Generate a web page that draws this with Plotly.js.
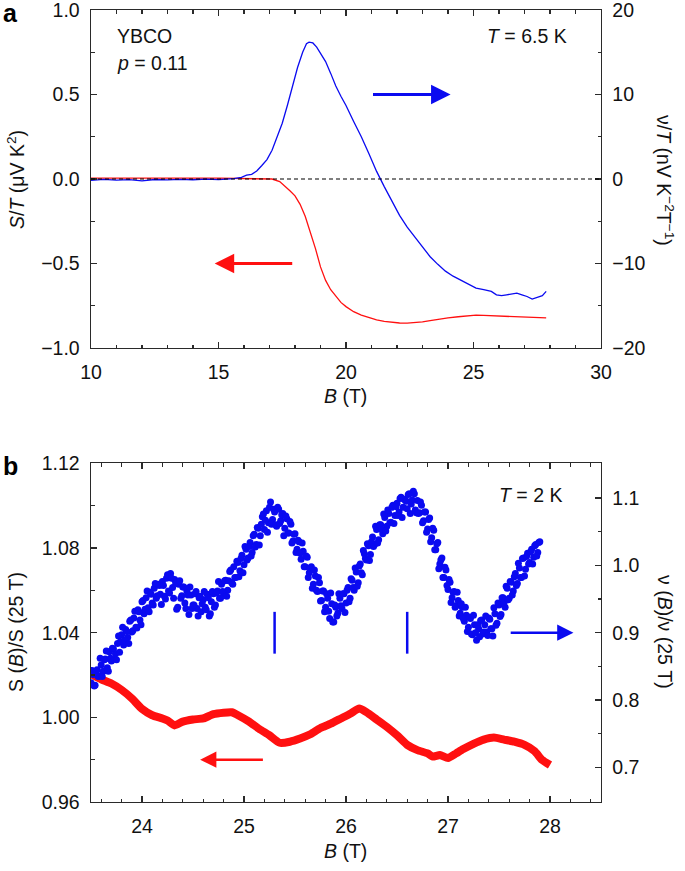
<!DOCTYPE html>
<html>
<head>
<meta charset="utf-8">
<script src="https://cdn.plot.ly/plotly-3.0.1.min.js"></script>
<style>html,body{margin:0;padding:0;background:#fff;}#chart{width:685px;height:871px;}</style>
</head>
<body>
<div id="chart"></div>
<script>
// ---------- Panel a data ----------
const aRedB = [10,11,12,13,14,15,16,16.8,17.1,17.4,17.6,17.8,18.0,18.2,18.4,18.6,18.8,19.0,19.2,19.4,19.6,19.8,20.0,20.3,20.6,20.9,21.2,21.5,21.8,22.1,22.4,22.7,23.0,23.3,23.6,24.0,24.4,24.8,25.1,25.4,25.8,26.2,26.6,27.0,27.4,27.85];
const aRedS = [0.005,0.004,0.006,0.004,0.005,0.005,0.004,0.003,0.0,-0.015,-0.04,-0.07,-0.10,-0.15,-0.22,-0.31,-0.41,-0.52,-0.60,-0.655,-0.695,-0.73,-0.755,-0.785,-0.805,-0.82,-0.833,-0.842,-0.848,-0.852,-0.853,-0.851,-0.845,-0.838,-0.83,-0.822,-0.815,-0.808,-0.805,-0.807,-0.809,-0.811,-0.815,-0.818,-0.821,-0.822];
const aBlueB = [10.0,10.5,11.0,11.5,12.0,12.5,13.0,13.5,14.0,14.5,15.0,15.3,15.6,15.9,16.1,16.3,16.5,16.7,16.9,17.1,17.3,17.5,17.7,17.9,18.1,18.3,18.45,18.55,18.7,18.85,19.0,19.2,19.4,19.6,19.8,20.0,20.3,20.6,20.9,21.2,21.5,21.8,22.1,22.4,22.7,23.0,23.3,23.6,23.9,24.2,24.5,24.8,25.1,25.4,25.7,25.9,26.1,26.3,26.5,26.7,26.9,27.1,27.3,27.5,27.7,27.85];
const aBlueNu = [-0.15,-0.05,-0.12,-0.08,-0.22,-0.06,-0.10,-0.04,-0.09,-0.02,-0.07,-0.03,0.05,0.20,0.45,0.55,0.95,1.6,2.3,3.4,4.9,6.6,8.7,11.0,13.2,15.0,16.0,16.2,16.1,15.6,14.9,13.9,12.5,11.0,9.8,8.7,6.8,5.0,3.0,0.9,-0.9,-2.6,-4.3,-5.7,-6.9,-8.1,-9.2,-10.1,-10.9,-11.5,-12.0,-12.4,-12.9,-13.1,-13.3,-13.7,-13.8,-13.7,-13.6,-13.5,-13.7,-13.9,-14.2,-14.0,-13.8,-13.3];

// ---------- Panel b data ----------
const bRedB = [23.50,23.60,23.70,23.80,23.90,24.00,24.10,24.20,24.25,24.32,24.40,24.50,24.60,24.70,24.80,24.88,24.95,25.05,25.15,25.25,25.35,25.45,25.55,25.65,25.75,25.85,25.95,26.05,26.13,26.20,26.30,26.40,26.50,26.60,26.70,26.80,26.85,26.92,27.00,27.08,27.15,27.25,27.35,27.45,27.55,27.65,27.75,27.85,27.92,28.00];
const bRedS = [1.0205,1.0180,1.0160,1.0130,1.0090,1.0040,1.0010,0.9995,0.9985,0.9962,0.9980,0.9990,0.9995,1.0015,1.0022,1.0024,1.0008,0.9980,0.9945,0.9915,0.9880,0.9885,0.9900,0.9920,0.9950,0.9970,0.9995,1.0020,1.0042,1.0025,0.9990,0.9955,0.9915,0.9870,0.9845,0.9830,0.9815,0.9822,0.9808,0.9830,0.9850,0.9875,0.9895,0.9905,0.9895,0.9885,0.9870,0.9840,0.9800,0.9775];

// blue scatter, first sweep
const bBlueB1 = [23.50,23.52,23.54,23.56,23.58,23.60,23.62,23.64,23.66,23.68,23.70,23.72,23.74,23.76,23.78,23.80,23.82,23.84,23.86,23.88,23.90,23.92,23.94,23.96,23.98,24.00,24.02,24.04,24.06,24.08,24.10,24.12,24.14,24.16,24.18,24.20,24.22,24.24,24.26,24.28,24.30,24.32,24.34,24.36,24.38,24.40,24.42,24.44,24.46,24.48,24.50,24.52,24.54,24.56,24.58,24.60,24.62,24.64,24.66,24.68,24.70,24.72,24.74,24.76,24.78,24.80,24.82,24.84,24.86,24.88,24.90,24.92,24.94,24.96,24.98,25.00,25.02,25.04,25.06,25.08,25.10,25.12,25.14,25.16,25.18,25.20,25.22,25.24,25.26,25.28,25.30,25.32,25.34,25.36,25.38,25.40,25.42,25.44,25.46,25.48,25.50,25.52,25.54,25.56,25.58,25.60,25.62,25.64,25.66,25.68,25.70,25.72,25.74,25.76,25.78,25.80,25.82,25.84,25.86,25.88,25.90,25.92,25.94,25.96,25.98,26.00,26.02,26.04,26.06,26.08,26.10,26.12,26.14,26.16,26.18,26.20,26.22,26.24,26.26,26.28,26.30,26.32,26.34,26.36,26.38,26.40,26.42,26.44,26.46,26.48,26.50,26.52,26.54,26.56,26.58,26.60,26.62,26.64,26.66,26.68,26.70,26.72,26.74,26.76,26.78,26.80,26.82,26.84,26.86,26.88,26.90,26.92,26.94,26.96,26.98,27.00,27.02,27.04,27.06,27.08,27.10,27.12,27.14,27.16,27.18,27.20,27.22,27.24,27.26,27.28,27.30,27.32,27.34,27.36,27.38,27.40,27.42,27.44,27.46,27.48,27.50,27.52,27.54,27.56,27.58,27.60,27.62,27.64,27.66,27.68,27.70,27.72,27.74,27.76,27.78,27.80,27.82,27.84,27.86,27.88,27.90];
const bBlueNu1 = [0.826,0.838,0.822,0.845,0.836,0.852,0.843,0.861,0.848,0.872,0.858,0.876,0.869,0.884,0.871,0.897,0.882,0.905,0.893,0.917,0.901,0.922,0.908,0.934,0.919,0.946,0.928,0.952,0.937,0.960,0.944,0.966,0.951,0.972,0.957,0.976,0.954,0.981,0.962,0.988,0.967,0.979,0.935,0.972,0.951,0.968,0.944,0.962,0.927,0.956,0.941,0.958,0.936,0.952,0.931,0.949,0.938,0.957,0.925,0.946,0.958,0.941,0.962,0.951,0.972,0.958,0.978,0.963,0.991,0.974,0.998,0.982,1.004,0.992,1.015,1.001,1.024,1.011,1.034,1.019,1.046,1.031,1.055,1.044,1.072,1.053,1.081,1.063,1.094,1.068,1.079,1.058,1.083,1.066,1.077,1.055,1.069,1.048,1.061,1.036,1.047,1.024,1.035,1.009,1.021,0.998,1.012,0.989,0.998,0.972,0.984,0.961,0.974,0.948,0.962,0.938,0.951,0.921,0.943,0.916,0.938,0.929,0.951,0.936,0.958,0.944,0.967,0.951,0.978,0.963,0.990,0.974,1.002,0.986,1.017,1.008,1.029,1.016,1.042,1.031,1.053,1.038,1.060,1.047,1.071,1.058,1.077,1.064,1.089,1.074,1.092,1.079,1.101,1.086,1.097,1.084,1.106,1.091,1.110,1.082,1.096,1.078,1.089,1.066,1.079,1.054,1.070,1.041,1.052,1.023,1.034,1.002,1.011,0.982,0.993,0.964,0.975,0.952,0.961,0.940,0.948,0.929,0.938,0.917,0.926,0.908,0.921,0.897,0.912,0.889,0.906,0.918,0.898,0.912,0.901,0.922,0.906,0.895,0.928,0.914,0.941,0.927,0.952,0.938,0.966,0.951,0.975,0.962,0.988,0.973,0.996,0.982,1.011,0.994,1.018,1.004,1.024,1.012,1.031,1.019,1.035];

// blue scatter, second sweep
const bBlueB2 = [23.51,23.53,23.55,23.57,23.59,23.61,23.63,23.65,23.67,23.69,23.71,23.73,23.75,23.77,23.79,23.81,23.83,23.85,23.87,23.89,23.91,23.93,23.95,23.97,23.99,24.01,24.03,24.05,24.07,24.09,24.11,24.13,24.15,24.17,24.19,24.21,24.23,24.25,24.27,24.29,24.31,24.33,24.35,24.37,24.39,24.41,24.43,24.45,24.47,24.49,24.51,24.53,24.55,24.57,24.59,24.61,24.63,24.65,24.67,24.69,24.71,24.73,24.75,24.77,24.79,24.81,24.83,24.85,24.87,24.89,24.91,24.93,24.95,24.97,24.99,25.01,25.03,25.05,25.07,25.09,25.11,25.13,25.15,25.17,25.19,25.21,25.23,25.25,25.27,25.29,25.31,25.33,25.35,25.37,25.39,25.41,25.43,25.45,25.47,25.49,25.51,25.53,25.55,25.57,25.59,25.61,25.63,25.65,25.67,25.69,25.71,25.73,25.75,25.77,25.79,25.81,25.83,25.85,25.87,25.89,25.91,25.93,25.95,25.97,25.99,26.01,26.03,26.05,26.07,26.09,26.11,26.13,26.15,26.17,26.19,26.21,26.23,26.25,26.27,26.29,26.31,26.33,26.35,26.37,26.39,26.41,26.43,26.45,26.47,26.49,26.51,26.53,26.55,26.57,26.59,26.61,26.63,26.65,26.67,26.69,26.71,26.73,26.75,26.77,26.79,26.81,26.83,26.85,26.87,26.89,26.91,26.93,26.95,26.97,26.99,27.01,27.03,27.05,27.07,27.09,27.11,27.13,27.15,27.17,27.19,27.21,27.23,27.25,27.27,27.29,27.31,27.33,27.35,27.37,27.39,27.41,27.43,27.45,27.47,27.49,27.51,27.53,27.55,27.57,27.59,27.61,27.63,27.65,27.67,27.69,27.71,27.73,27.75,27.77,27.79,27.81,27.83,27.85,27.87,27.89];
const bBlueNu2 = [0.844,0.821,0.843,0.835,0.862,0.835,0.860,0.873,0.843,0.862,0.877,0.861,0.860,0.895,0.887,0.908,0.889,0.902,0.884,0.919,0.903,0.932,0.907,0.931,0.912,0.948,0.935,0.962,0.931,0.957,0.941,0.973,0.955,0.970,0.942,0.970,0.950,0.986,0.959,0.981,0.951,0.974,0.938,0.977,0.955,0.968,0.936,0.956,0.968,0.936,0.941,0.961,0.925,0.954,0.943,0.961,0.934,0.952,0.928,0.961,0.938,0.959,0.976,0.951,0.961,0.977,0.954,0.977,0.993,0.972,0.982,1.006,0.983,1.010,0.989,1.028,1.008,1.028,1.014,1.044,1.027,1.056,1.030,1.061,1.076,1.067,1.049,1.086,1.061,1.083,1.060,1.086,1.062,1.075,1.044,1.073,1.048,1.065,1.033,1.046,1.019,1.037,1.018,1.033,0.998,1.014,0.982,0.996,0.966,0.993,0.963,0.982,0.947,0.962,0.931,0.958,0.932,0.959,0.916,0.941,0.925,0.958,0.940,0.958,0.930,0.963,0.946,0.980,0.967,0.996,0.969,0.999,0.989,1.022,1.010,1.032,1.007,1.035,1.028,1.058,1.033,1.060,1.053,1.076,1.051,1.082,1.063,1.086,1.062,1.087,1.074,1.099,1.071,1.098,1.095,1.105,1.077,1.097,1.106,1.078,1.077,1.094,1.063,1.079,1.049,1.068,1.035,1.055,1.023,1.032,0.995,1.008,0.982,0.997,0.970,0.979,0.945,0.960,0.938,0.960,0.925,0.943,0.921,0.938,0.902,0.923,0.898,0.926,0.900,0.912,0.894,0.919,0.901,0.925,0.896,0.920,0.906,0.937,0.911,0.944,0.924,0.952,0.945,0.969,0.949,0.976,0.956,0.983,0.970,1.003,0.982,1.010,0.984,1.013,1.002,1.020,1.002,1.029,1.014,1.034];

// marker bars in panel b (field positions)
const bBarB = [25.30, 26.60];

const RED = '#ff1010', BLUE = '#0a0af0', AX = '#2a2a2a';
const FONT = 'Liberation Sans, Arial, Helvetica, sans-serif';
const FS = 19.5;

// page geometry helpers (paper coords)
const L = 91, R = 84, T = 10, Bm = 69, W = 685, H = 871;
const PW = W - L - R, PH = H - T - Bm;
const px = v => (v - L) / PW;
const py = v => 1 - (v - T) / PH;

function axisBase(extra) {
  return Object.assign({
    showline: true, linecolor: AX, linewidth: 1.4,
    ticks: 'inside', ticklen: 6, tickwidth: 1.4, tickcolor: AX,
    showgrid: false, zeroline: false,
    tickfont: {family: FONT, size: FS, color: '#111'},
    ticklabeloverflow: 'allow',
    fixedrange: true
  }, extra);
}
function minor(d) { return {dtick: d, ticks: 'inside', ticklen: 3.5, tickwidth: 1.2, tickcolor: AX}; }

const traces = [
  {x: aRedB, y: aRedS, xaxis: 'x', yaxis: 'y', mode: 'lines', line: {color: RED, width: 1.3}, hoverinfo: 'skip'},
  {x: aBlueB, y: aBlueNu, xaxis: 'x', yaxis: 'y2', mode: 'lines', line: {color: BLUE, width: 1.3}, hoverinfo: 'skip'},
  {x: bRedB, y: bRedS, xaxis: 'x2', yaxis: 'y3', mode: 'lines', line: {color: RED, width: 8, shape: 'spline', smoothing: 0.5}, hoverinfo: 'skip'},
  {x: bBlueB1, y: bBlueNu1, xaxis: 'x2', yaxis: 'y4', mode: 'markers', marker: {color: BLUE, size: 7}, hoverinfo: 'skip'},
  {x: bBlueB2, y: bBlueNu2, xaxis: 'x2', yaxis: 'y4', mode: 'markers', marker: {color: BLUE, size: 7}, hoverinfo: 'skip'}
];

const shapes = [
  {type: 'line', xref: 'x', yref: 'y', x0: 10, x1: 30, y0: 0, y1: 0, line: {color: '#000', width: 1.2, dash: '4px,3px'}},
];
bBarB.forEach(b => shapes.push({type: 'line', xref: 'x2', yref: 'y4', x0: b, x1: b, y0: 0.869, y1: 0.931, line: {color: BLUE, width: 2.5}}));

function arrow(xref, yref, x0, x1, y, color, w) {
  return {xref: xref, yref: yref, axref: xref, ayref: yref, x: x1, y: y, ax: x0, ay: y,
    text: '', showarrow: true, arrowhead: 2, arrowsize: 1.3, arrowwidth: w, arrowcolor: color, standoff: 0, startstandoff: 0};
}
function txt(x, y, t, opts) {
  return Object.assign({xref: 'paper', yref: 'paper', x: x, y: y, text: t, showarrow: false,
    font: {family: FONT, size: FS, color: '#111'}, xanchor: 'center', yanchor: 'middle'}, opts || {});
}

const annotations = [
  arrow('x', 'y', 21.0, 24.1, 0.5, BLUE, 3),
  arrow('x', 'y', 17.95, 14.85, -0.5, RED, 3),
  arrow('x2', 'y4', 27.6, 28.23, 0.9, BLUE, 2.5),
  arrow('x2', 'y3', 25.2, 24.57, 0.98, RED, 2.5),
  txt(px(10), py(13), '<b>a</b>', {font: {family: FONT, size: 25, color: '#000'}}),
  txt(px(10), py(466), '<b>b</b>', {font: {family: FONT, size: 25, color: '#000'}}),
  txt(px(115), py(36.5), 'YBCO', {xanchor: 'left'}),
  txt(px(115), py(63), '<i>p</i> = 0.11', {xanchor: 'left'}),
  txt(px(569), py(36.5), '<i>T</i> = 6.5 K', {xanchor: 'right'}),
  txt(px(564), py(495), '<i>T</i> = 2 K', {xanchor: 'right'}),
  txt(px(345), py(396), '<i>B</i> (T)'),
  txt(px(345), py(851), '<i>B</i> (T)'),
  txt(px(16), py(180), '<i>S</i>/<i>T</i> (μV K<sup>2</sup>)', {textangle: -90}),
  txt(px(665), py(180), 'ν/<i>T</i> (nV K<sup>−2</sup>T<sup>−1</sup>)', {textangle: 90}),
  txt(px(16), py(632), 'S (<i>B</i>)/S (25 T)', {textangle: -90}),
  txt(px(665), py(632), 'ν (<i>B</i>)/ν (25 T)', {textangle: 90})
];

const layout = {
  width: W, height: H,
  margin: {l: L, r: R, t: T, b: Bm, pad: 0},
  paper_bgcolor: '#fff', plot_bgcolor: '#fff',
  showlegend: false,
  font: {family: FONT, size: FS, color: '#111'},
  xaxis: axisBase({domain: [0, 1], anchor: 'y', range: [10, 30], dtick: 5, tick0: 10, mirror: 'ticks', minor: minor(1), ticklabelstandoff: 6}),
  yaxis: axisBase({domain: [0.5732, 1], anchor: 'x', range: [-1, 1], dtick: 0.5, tickformat: '.1f', minor: minor(0.25), ticklabelstandoff: 6}),
  yaxis2: axisBase({overlaying: 'y', side: 'right', anchor: 'x', range: [-20, 20], dtick: 10, minor: minor(5), ticklabelstandoff: 6}),
  xaxis2: axisBase({domain: [0, 1], anchor: 'y3', range: [23.5, 28.5], dtick: 1, tick0: 24, mirror: 'ticks', minor: minor(0.2), ticklabelstandoff: 6}),
  yaxis3: axisBase({domain: [0, 0.4274], anchor: 'x2', range: [0.96, 1.12], dtick: 0.04, tick0: 0.96, tickformat: '.2f', minor: minor(0.02), ticklabelstandoff: 6}),
  yaxis4: axisBase({overlaying: 'y3', side: 'right', anchor: 'x2', range: [0.649, 1.151], dtick: 0.1, tick0: 0.7, tickformat: '.1f', minor: minor(0.05), ticklabelstandoff: 6}),
  shapes: shapes,
  annotations: annotations
};

Plotly.newPlot('chart', traces, layout, {displayModeBar: false, staticPlot: true});
</script>
</body>
</html>
